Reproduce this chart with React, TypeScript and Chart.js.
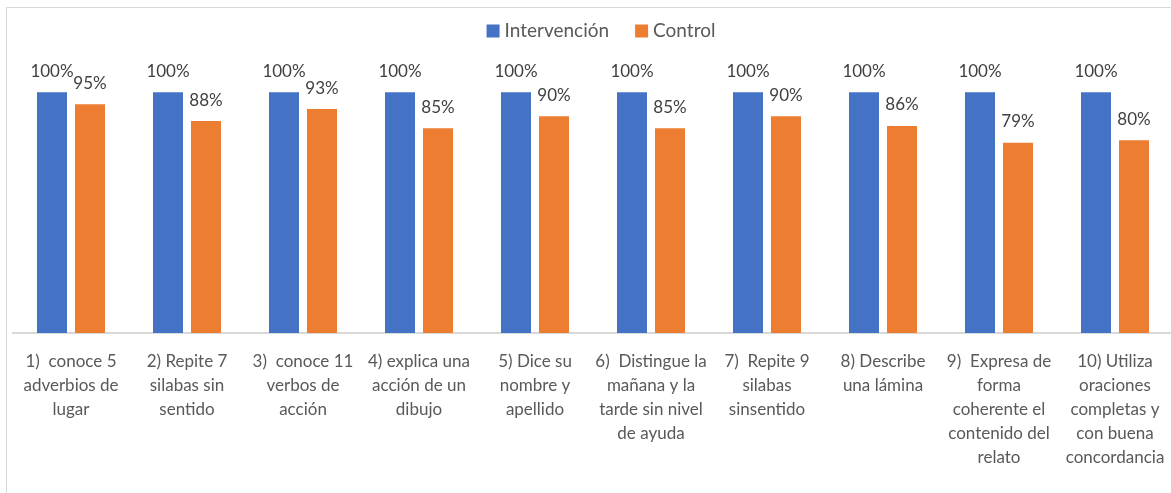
import { useEffect, useRef } from "react";
import { Chart, registerables } from "chart.js";

Chart.register(...registerables);

const categories: string[][] = [
  ["1)  conoce 5", "adverbios de", "lugar"],
  ["2) Repite 7", "silabas sin", "sentido"],
  ["3)  conoce 11", "verbos de", "acción"],
  ["4) explica una", "acción de un", "dibujo"],
  ["5) Dice su", "nombre y", "apellido"],
  ["6)  Distingue la", "mañana y la", "tarde sin nivel", "de ayuda"],
  ["7)  Repite 9", "silabas", "sinsentido"],
  ["8) Describe", "una lámina"],
  ["9)  Expresa de", "forma", "coherente el", "contenido del", "relato"],
  ["10) Utiliza", "oraciones", "completas y", "con buena", "concordancia"],
];

const seriesNames = ["Intervención", "Control"];
const intervencion = [1, 1, 1, 1, 1, 1, 1, 1, 1, 1];
const control = [0.95, 0.88, 0.93, 0.85, 0.9, 0.85, 0.9, 0.86, 0.79, 0.8];

const FONT = "Lato, 'Liberation Sans', sans-serif";

const dataLabelPlugin = {
  id: "dataLabels",
  afterDatasetsDraw(chart: any) {
    const ctx = chart.ctx;
    ctx.save();
    ctx.font = `17px ${FONT}`;
    ctx.fillStyle = "#404040";
    ctx.textAlign = "center";
    ctx.textBaseline = "middle";
    chart.data.datasets.forEach((ds: any, i: number) => {
      const meta = chart.getDatasetMeta(i);
      meta.data.forEach((el: any, j: number) => {
        const v = ds.data[j] as number;
        ctx.fillText(Math.round(v * 100) + "%", el.x, el.y - 21);
      });
    });
    ctx.restore();
  },
};

const legendPlugin = {
  id: "customLegend",
  afterDraw(chart: any) {
    const ctx = chart.ctx;
    ctx.save();
    ctx.font = `19px ${FONT}`;
    ctx.textBaseline = "middle";
    ctx.textAlign = "left";
    const box = 13;
    const gapText = 5;
    const gapItem = 26;
    const items = chart.data.datasets.map((ds: any) => ({
      label: ds.label as string,
      color: ds.backgroundColor as string,
      w: ctx.measureText(ds.label).width,
    }));
    const total =
      items.reduce((s: number, it: any) => s + box + gapText + it.w, 0) +
      gapItem * (items.length - 1);
    let x = 601 - total / 2;
    const y = 31;
    items.forEach((it: any) => {
      ctx.fillStyle = it.color;
      ctx.fillRect(x, y - box / 2, box, box);
      ctx.fillStyle = "#595959";
      ctx.fillText(it.label, x + box + gapText, y);
      x += box + gapText + it.w + gapItem;
    });
    ctx.restore();
  },
};

export default function App() {
  const ref = useRef<HTMLCanvasElement>(null);

  useEffect(() => {
    if (!ref.current) return;
    const chart = new Chart(ref.current, {
      type: "bar",
      data: {
        labels: categories,
        datasets: [
          {
            label: seriesNames[0],
            data: intervencion,
            backgroundColor: "#4472C4",
            barPercentage: 0.79,
            categoryPercentage: 0.655,
          },
          {
            label: seriesNames[1],
            data: control,
            backgroundColor: "#ED7D31",
            barPercentage: 0.79,
            categoryPercentage: 0.655,
          },
        ],
      },
      options: {
        responsive: false,
        animation: false,
        layout: { padding: { left: 13, right: 12, top: 44, bottom: 0 } },
        plugins: {
          legend: { display: false },
          tooltip: { enabled: false },
          title: { display: false },
        },
        scales: {
          x: {
            grid: { display: false },
            border: { display: true, color: "#d9d9d9", width: 2 },
            ticks: {
              color: "#595959",
              font: { family: FONT, size: 17, lineHeight: 24 / 17 },
              padding: 9,
              maxRotation: 0,
              autoSkip: false,
            },
            afterFit: (scale: any) => {
              scale.height = 160;
            },
          },
          y: {
            display: false,
            min: 0,
            max: 1.2,
          },
        },
      },
      plugins: [dataLabelPlugin, legendPlugin],
    });
    return () => chart.destroy();
  }, []);

  return (
    <div
      style={{
        position: "fixed",
        left: 0,
        top: 0,
        width: 1171,
        height: 493,
        overflow: "hidden",
        background: "#ffffff",
      }}
    >
      <div
        style={{
          position: "absolute",
          left: 6,
          top: 7,
          width: 1200,
          height: 520,
          border: "1.5px solid #d9d9d9",
          boxSizing: "border-box",
        }}
      />
      <canvas
        ref={ref}
        width={1185}
        height={493}
        style={{ position: "absolute", left: 0, top: 0, width: 1185, height: 493 }}
      />
    </div>
  );
}
